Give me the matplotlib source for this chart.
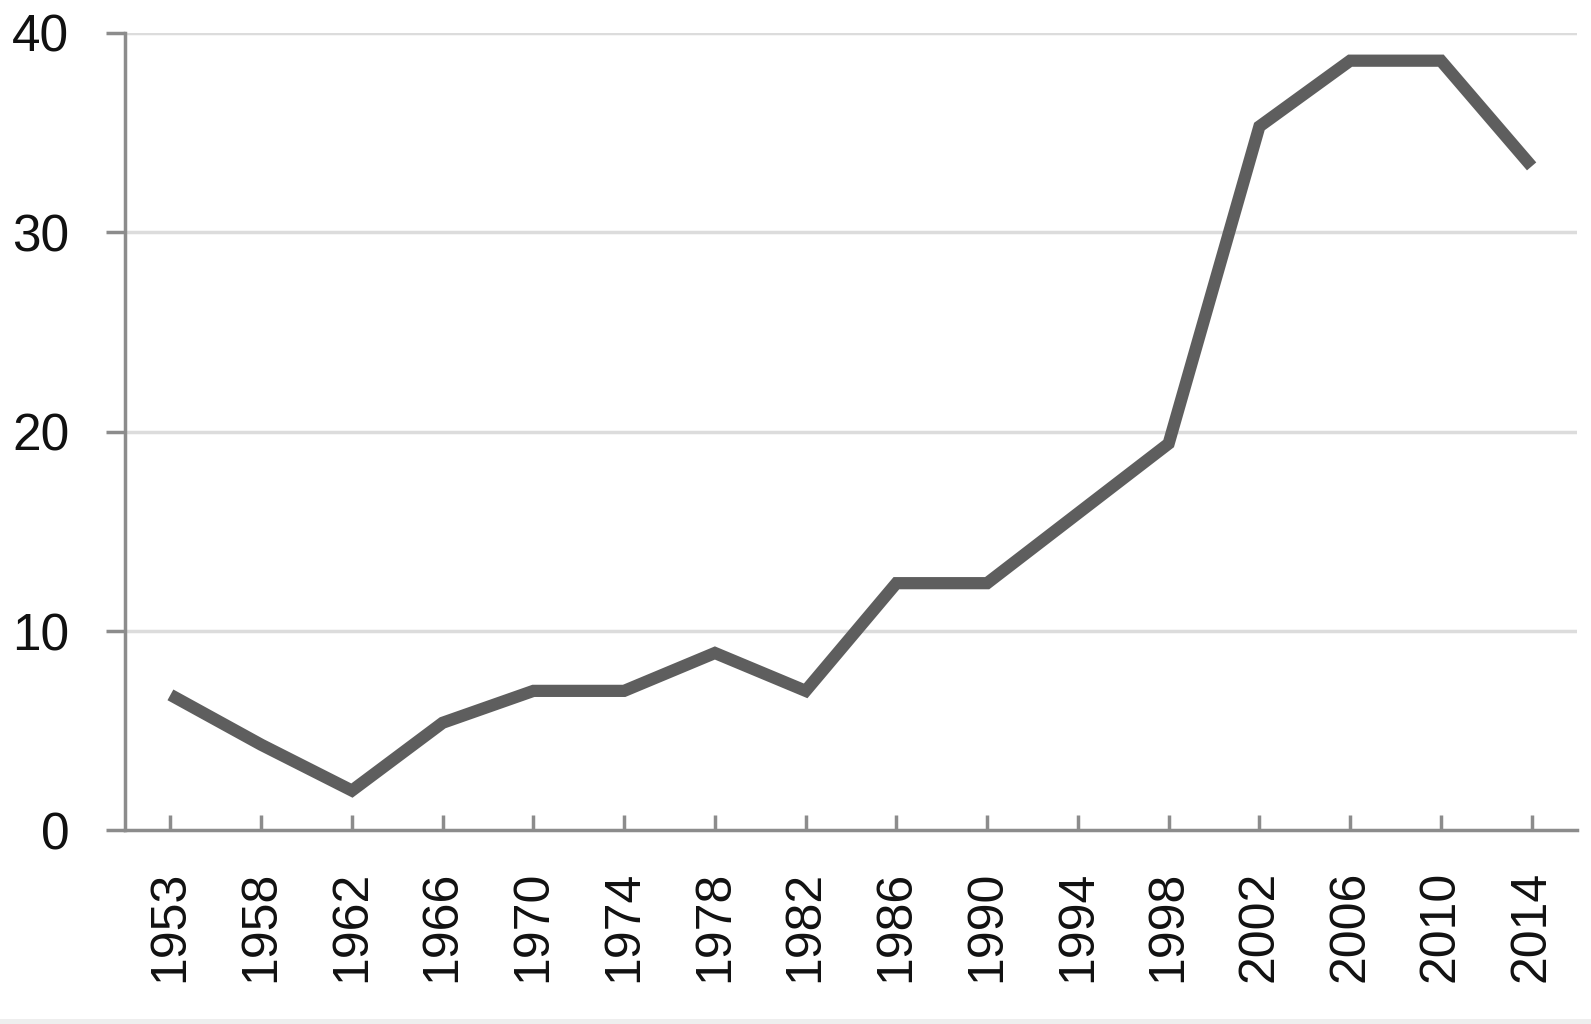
#!/usr/bin/env python3

# plot.py

import matplotlib
matplotlib.use('Agg')
import matplotlib.pyplot as plt
from matplotlib.patches import Rectangle

years = ['1953', '1958', '1962', '1966', '1970', '1974', '1978', '1982',
         '1986', '1990', '1994', '1998', '2002', '2006', '2010', '2014']
values = [6.8, 4.3, 2.0, 5.4, 7.0, 7.0, 8.9, 7.0,
          12.4, 12.4, 15.9, 19.4, 35.3, 38.6, 38.6, 33.3]
yticks = [0, 10, 20, 30, 40]

plt.rcParams['font.family'] = ['Liberation Sans', 'DejaVu Sans']

def main():
    fig = plt.figure(figsize=(15.91, 10.24), dpi=100)
    ax = fig.add_axes([0.0786, 0.189, 0.9126, 0.779])

    x = list(range(len(years)))
    ax.plot(x, values, color='#5e5e5e', linewidth=8.8, solid_joinstyle='miter',
            solid_capstyle='butt', zorder=3)

    ax.set_xlim(-0.5, len(years) - 0.5)
    ax.set_ylim(0, 40)
    ax.set_yticks(yticks)
    ax.set_xticks(x)
    ax.set_xticklabels(years, rotation=90)

    # light horizontal gridlines, none at zero
    for v in yticks[1:]:
        ax.axhline(v, color='#dcdcdc', linewidth=2.5, zorder=1)

    for side in ['top', 'right']:
        ax.spines[side].set_visible(False)
    for side in ['left', 'bottom']:
        ax.spines[side].set_color('#8c8c8c')
        ax.spines[side].set_linewidth(2.5)

    ax.tick_params(axis='y', direction='out', length=14, width=2.5,
                   color='#8c8c8c', pad=26, labelsize=37, labelcolor='#111111')
    ax.tick_params(axis='x', direction='in', length=11, width=2.5,
                   color='#8c8c8c', pad=29, labelsize=36, labelcolor='#111111')

    # thin gray band at the bottom of the picture
    fig.patches.append(Rectangle((0, 0), 1, 0.005, transform=fig.transFigure,
                                 facecolor='#eeeeee', edgecolor='none'))

    fig.savefig('out.png', dpi=100, facecolor='white')

if __name__ == "__main__":
    main()
